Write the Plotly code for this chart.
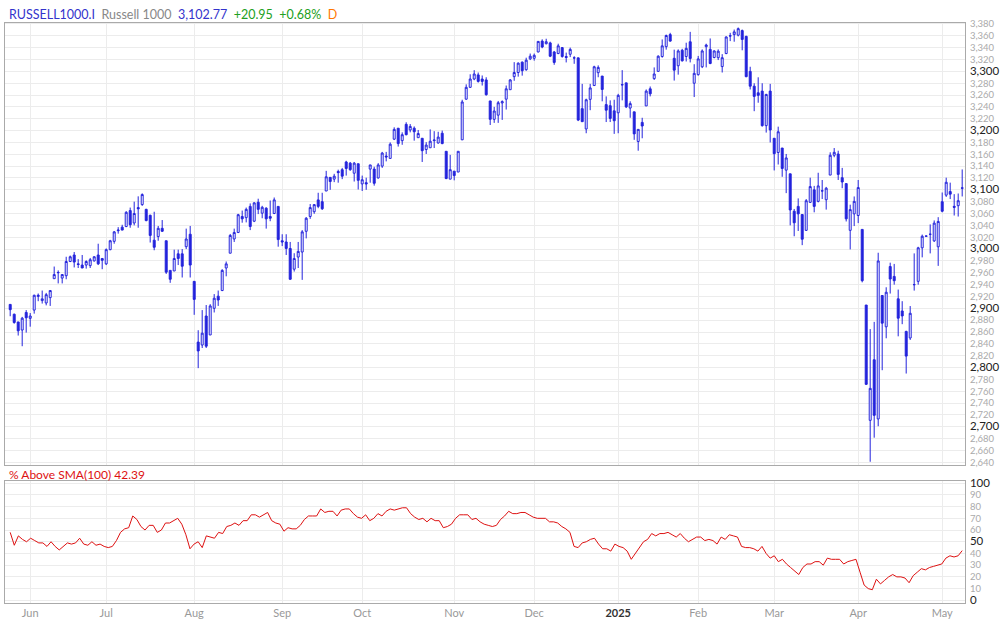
import numpy as np
import pandas as pd
import plotly.graph_objects as go

# daily OHLC (oldest first)
open_ = [2906.6, 2890, 2877, 2863.3, 2893, 2883, 2897, 2920, 2913, 2909, 2918, 2950, 2960, 2951, 2955, 2979, 2990, 2975, 2973, 2973,
         2972, 2980, 2990, 2984, 2975, 2999, 3013, 3031, 3037, 3038, 3065, 3044, 3070, 3075, 3067, 3057, 3015, 3021, 3035, 3014,
         2964, 2963, 2992, 2992, 3004, 3025, 2945.5, 2843, 2838, 2887, 2855, 2900, 2920.5, 2930, 2968, 2993, 3017, 3028, 3055, 3053,
         3072, 3047, 3079, 3060.5, 3069, 3055, 3060, 3072, 3014, 3012, 3001, 2966, 2986.5, 2995, 3030, 3055, 3063, 3083, 3080, 3098,
         3121, 3118, 3131, 3134, 3147, 3145, 3128, 3144, 3110, 3112, 3135, 3135, 3120, 3140, 3157, 3153, 3185.5, 3204, 3183, 3210.5,
         3201, 3204, 3188, 3187, 3168, 3171, 3183, 3179, 3195.5, 3165, 3118, 3131.5, 3130, 3184.4, 3253, 3273, 3287, 3294, 3287, 3285.5,
         3250, 3219, 3226, 3246.6, 3253, 3269, 3291, 3298, 3315.5, 3302.7, 3321, 3322, 3332.7, 3351, 3346.6, 3348, 3332.7, 3330, 3340, 3325,
         3328.8, 3322.7, 3322.7, 3237, 3202.7, 3252.7, 3276, 3297.7, 3292, 3243.8, 3242, 3233.3, 3230, 3277, 3280.5, 3238, 3231.6, 3181.6, 3213.8, 3241.6,
         3270.5, 3287.7, 3299.9, 3325, 3341.6, 3362, 3322, 3309.4, 3335.5, 3325, 3349.9, 3279.9, 3294.4, 3307.7, 3341.6, 3337, 3323.3, 3323, 3308, 3330,
         3359.5, 3362, 3361, 3368.8, 3359, 3299.9, 3274.9, 3263.8, 3266.6, 3208.3, 3266.6, 3187, 3163, 3170.5, 3133.2, 3127, 3063.8, 3072, 3058.3, 3031.6,
         3078.8, 3099.9, 3080.5, 3098, 3083.3, 3124.9, 3158.3, 3160.5, 3120.5, 3110.5, 3031.6, 3059.4, 3056.6, 3033.2, 2905.5, 2710.9, 2813.2, 2713.2, 2921.6, 2868.8,
         2970.5, 2953.8, 2916, 2895.5, 2861, 2849.9, 2940, 2945.5, 3002.1, 3021.6, 3024.9, 3013.8, 3003.8, 3079.9, 3091, 3097.1, 3072.1, 3073.2, 3103.3]
high = [2907, 2891, 2877, 2885.5, 2897, 2892, 2923, 2925, 2930, 2926, 2930, 2970.5, 2964, 2957, 2987, 2989, 2995, 2983, 2990, 2981,
        2985, 2988, 3009, 2985, 3001, 3015.5, 3030.5, 3037, 3041, 3064, 3070, 3080, 3089, 3094, 3068, 3058, 3063, 3039, 3049, 3014,
        2964, 2999, 2999, 3000, 3034.5, 3039, 2945.5, 2863, 2897, 2905.5, 2907, 2924, 2930, 2966, 2979, 3025.5, 3034.5, 3059.4, 3065, 3070,
        3077, 3079, 3085, 3073, 3070.5, 3082, 3087, 3072, 3025, 3025, 3012, 2993, 3012, 3032, 3054, 3076, 3076, 3095, 3095, 3132,
        3121, 3127, 3134, 3137, 3149, 3147, 3147, 3144, 3124, 3120.5, 3142, 3139, 3145, 3164, 3164, 3180, 3205.5, 3204, 3197, 3214,
        3211, 3207, 3201, 3187, 3180.5, 3202, 3199, 3198, 3200, 3165, 3159, 3131.5, 3165, 3252, 3278, 3295, 3302, 3298, 3293, 3290,
        3250, 3240, 3250, 3251, 3276, 3287, 3315.5, 3315, 3316.6, 3323, 3330, 3330, 3351, 3354, 3355, 3350, 3334.4, 3346.6, 3341, 3331.6,
        3340, 3325.5, 3323, 3278.8, 3253.8, 3278.8, 3309.4, 3310, 3292, 3257.7, 3251, 3252, 3262, 3302, 3280.5, 3249.4, 3231.6, 3202, 3221.6, 3269.4,
        3274.4, 3306.6, 3327, 3353.8, 3362, 3365, 3336.6, 3337, 3338, 3348.3, 3366.6, 3312, 3326, 3337, 3346.6, 3355.5, 3335.5, 3337, 3329, 3359,
        3365, 3370.5, 3374, 3370.5, 3360, 3307.7, 3279.9, 3289.9, 3279.9, 3262, 3278.8, 3187, 3206.6, 3170.5, 3160.5, 3127, 3067.7, 3085.5, 3058.3, 3084.4,
        3120.5, 3106.6, 3128.8, 3116.6, 3104.9, 3163.3, 3170.5, 3166, 3137, 3110.5, 3074.9, 3088.8, 3116.6, 3033.2, 2905.5, 2864.9, 2877.1, 2993.8, 2921.6, 2935.5,
        2977, 2974.9, 2931.6, 2912, 2862.1, 2903.8, 2992.7, 3003.8, 3024.4, 3022.5, 3041.6, 3048.3, 3053.8, 3095.5, 3120.5, 3112.1, 3092.7, 3093.8, 3134.4]
low = [2886.6, 2874, 2854, 2836, 2859, 2869, 2891, 2912, 2908, 2905, 2904, 2950, 2942, 2942, 2949, 2978, 2969, 2968, 2968, 2967,
       2968, 2979, 2973, 2966, 2973, 2998, 3009, 3026, 3032, 3037, 3036, 3040, 3036, 3073, 3047, 3011, 2998, 3014, 3029, 2958,
       2943, 2963, 2973, 2952, 3000, 2952, 2889, 2799, 2833, 2833, 2855, 2893, 2904, 2929, 2954, 2993, 3012, 3027, 3044.5, 3045,
       3032, 3045.5, 3059, 3052, 3034.5, 3047, 3059, 3004, 3005, 2990, 2948, 2962, 2968, 2948, 3018, 3051, 3059.5, 3069, 3066, 3098,
       3100, 3113, 3112, 3118, 3124, 3132, 3114, 3100.5, 3098, 3100, 3112, 3107, 3119, 3137, 3148, 3153, 3184, 3173, 3176, 3192,
       3197, 3183, 3188, 3147, 3160.5, 3171, 3170.5, 3178, 3177, 3118, 3118, 3116, 3130, 3184, 3252, 3272, 3285, 3281, 3276, 3259,
       3209.4, 3213, 3213, 3218, 3235.5, 3269, 3284, 3291, 3292.7, 3301, 3319, 3318, 3332, 3339, 3345.5, 3324, 3311, 3329, 3323, 3315,
       3324, 3312.7, 3216, 3215, 3195.5, 3234.4, 3275.5, 3290, 3249.4, 3214.4, 3214.4, 3194.4, 3195.5, 3251, 3238, 3221.6, 3184.4, 3166, 3187, 3241.6,
       3257.7, 3285.5, 3300, 3323, 3336.6, 3350, 3284.4, 3294.4, 3316.6, 3316.6, 3315, 3256.6, 3292.7, 3305.5, 3306.6, 3312, 3322, 3319, 3298, 3329,
       3351, 3350, 3359, 3335.5, 3290, 3269.4, 3232.7, 3247, 3206.6, 3196.6, 3179.9, 3132.7, 3142.7, 3122, 3094.4, 3040, 3021.6, 3030.5, 3006.6, 3030.5,
       3077.7, 3062, 3078.8, 3084.4, 3066.6, 3124.9, 3155, 3116.6, 3102.7, 3046.6, 2999.4, 3038.8, 3043.8, 2943.8, 2770.5, 2641, 2681.6, 2701, 2795.5, 2849.4,
       2924.9, 2939.9, 2852.7, 2873.2, 2789.9, 2846.6, 2929.9, 2939.9, 2986, 3021, 2992.7, 3012, 2971.6, 3062, 3088, 3084.4, 3056.6, 3054.9, 3088.8]
close = [2897.7, 2876, 2862, 2883.3, 2884, 2887, 2922, 2922, 2916, 2923, 2930, 2957, 2960.5, 2957, 2979, 2987, 2978, 2974, 2968, 2979,
         2982, 2987, 2975, 2981, 2999, 3014, 3029, 3032, 3032, 3062, 3041, 3060, 3068, 3092, 3048, 3023, 3003, 3035, 3030, 2961,
         2949, 2984, 2984, 2971, 3017, 2973, 2915, 2828, 2858, 2836, 2904, 2917, 2914, 2964, 2975, 3023, 3028, 3058, 3051, 3067,
         3038, 3078, 3067, 3070.5, 3051, 3052, 3083, 3016, 3012, 3001, 2949, 2984, 2996, 3029, 3052, 3070, 3075, 3072, 3068, 3122,
         3114, 3123, 3129, 3123, 3136, 3134, 3145, 3116, 3117, 3110, 3142, 3111, 3142, 3162, 3155.5, 3177, 3202, 3178, 3193, 3193,
         3207, 3198, 3195, 3166, 3175.5, 3182, 3184, 3189, 3178, 3119, 3134, 3124, 3165, 3248.3, 3273, 3287, 3295.5, 3283, 3283, 3260.5,
         3219, 3233, 3247, 3248.8, 3270.5, 3285.5, 3298, 3313.8, 3301, 3318.8, 3325.5, 3327, 3350.5, 3341, 3350, 3325.5, 3315, 3343, 3325, 3323.5,
         3337, 3322.5, 3217.7, 3215, 3252, 3272, 3307.7, 3306.6, 3269.4, 3234.4, 3220.5, 3216.6, 3259.4, 3277.5, 3240, 3245.5, 3194.4, 3202, 3207.7, 3266.6,
         3262, 3295.5, 3325.5, 3343, 3360.5, 3351, 3302, 3334.4, 3317.7, 3338.8, 3321.6, 3296.6, 3321, 3334.4, 3344.4, 3313.2, 3334.4, 3334, 3323, 3358,
         3360, 3366.6, 3372, 3353.8, 3291, 3274.9, 3257.7, 3259.4, 3208.3, 3261, 3201, 3161, 3198, 3136, 3153.8, 3066, 3044.4, 3059.4, 3016.6, 3081.6,
         3105.5, 3072, 3106.6, 3098.3, 3102.7, 3158.3, 3163.3, 3126, 3113.2, 3051, 3066.6, 3080.5, 3103.8, 2946.6, 2771.6, 2764.9, 2719.3, 2979.9, 2874.9, 2927.1,
         2949.4, 2946.6, 2883.3, 2887.1, 2819.3, 2891.6, 2939.9, 3002.1, 3021.6, 3022, 3025, 3043.8, 3046.6, 3063.8, 3112.7, 3092.7, 3070.5, 3081.6, 3102.77]

# % above SMA(100)
pct_above = [58, 47, 55, 52, 50, 53, 51, 49, 49, 46, 50, 46, 43, 46, 49, 48, 49, 53, 48, 47,
             50, 47, 48, 46, 45, 46, 51, 58, 61, 62, 72, 69, 63, 60, 64, 64, 58, 60, 66, 66,
             68, 70, 65, 56, 44, 48, 50, 45, 55, 54, 53, 58, 57, 63, 64, 66, 64, 68, 68, 73,
             73, 71, 73, 75, 68, 66, 65, 59, 62, 61, 61, 64, 69, 72, 72, 72, 78, 75, 76, 76,
             72, 77, 78, 78, 74, 71, 70, 73, 68, 70, 74, 72, 76, 78, 77, 78, 79, 79, 74, 71,
             69, 70, 67, 70, 68, 68, 62, 63, 65, 70, 73, 73, 73, 69, 70, 67, 65, 64, 63, 64,
             69, 72, 76, 74, 74, 75, 75, 73, 71, 70, 70, 70, 67, 67, 66, 63, 61, 58, 46, 45,
             49, 50, 52, 53, 48, 44, 44, 42, 48, 46, 45, 42, 35, 40, 45, 50, 52, 57, 55, 57,
             57, 58, 56, 54, 57, 53, 50, 52, 54, 54, 51, 52, 51, 48, 54, 52, 56, 55, 54, 46,
             45, 45, 44, 42, 46, 40, 36, 38, 33, 35, 31, 28, 25, 22, 28, 31, 31, 33, 33, 30,
             36, 35, 35, 35, 31, 33, 34, 35, 24, 13, 10, 9, 18, 14, 17, 20, 22, 20, 20, 19,
             15, 21, 24, 27, 26, 28, 29, 30, 31, 36, 38, 37, 38, 42.39]

HOLIDAYS = ['2024-05-27', '2024-06-19', '2024-07-04', '2024-09-02', '2024-11-28', '2024-12-25',
            '2025-01-01', '2025-01-09', '2025-01-20', '2025-02-17', '2025-04-18']

BLUE = '#2323dc'
GRID = '#ececec'

n = len(close)
days = pd.bdate_range('2024-04-01', '2025-05-08')
days = days[~days.isin(pd.to_datetime(HOLIDAYS))][-n:]
idx = np.arange(n)

# month gridlines / labels at first trading day of each month
month_pos, month_txt = [], []
for i in range(1, n):
    if days[i].month != days[i - 1].month:
        month_pos.append(i)
        if days[i].month == 1:
            month_txt.append('<b style="color:#333">2025</b>')
        else:
            month_txt.append(days[i].strftime('%b'))

candles = go.Candlestick(
    x=idx, open=open_, high=high, low=low, close=close,
    increasing=dict(line=dict(color=BLUE, width=1), fillcolor='white'),
    decreasing=dict(line=dict(color=BLUE, width=1), fillcolor=BLUE),
    whiskerwidth=0, xaxis='x', yaxis='y', showlegend=False,
)
pct_line = go.Scatter(
    x=np.linspace(0, n - 1, len(pct_above)), y=pct_above, mode='lines',
    line=dict(color='#dd1111', width=1), xaxis='x2', yaxis='y2', showlegend=False,
)

price_ticks = list(range(2640, 3381, 20))
price_text = [f'<span style="font-size:11.5px;color:#222">{v:,}</span>' if v % 100 == 0
              else f'{v:,}' for v in price_ticks]
pct_ticks = list(range(0, 101, 10))
pct_text = [f'<span style="font-size:11.5px;color:#222">{v}</span>' if v % 50 == 0
            else str(v) for v in pct_ticks]

xr = [-1.3, n - 0.3]
_X = dict(range=xr, tickvals=month_pos, showgrid=True, gridcolor=GRID, zeroline=False,
          showline=True, linecolor='#aaa', mirror=True, ticks='')

fig = go.Figure([candles, pct_line])
fig.update_layout(
    width=1000, height=622,
    margin=dict(l=0, r=0, t=0, b=0),
    paper_bgcolor='white', plot_bgcolor='white',
    font=dict(family='Lato', size=9.5, color='#aaa'),
    xaxis=dict(domain=[0.005, 0.965], anchor='y', showticklabels=False,
               rangeslider=dict(visible=False), **_X),
    yaxis=dict(domain=[0.2508, 0.9711], range=[2635.5, 3382], side='right', anchor='x',
               tickvals=price_ticks, ticktext=price_text, gridcolor=GRID,
               showline=True, linecolor='#aaa', mirror=True, zeroline=False,
               ticklabelstandoff=2),
    xaxis2=dict(domain=[0.005, 0.965], anchor='y2', ticktext=month_txt,
                tickfont=dict(size=11, color='#999'), **_X),
    yaxis2=dict(domain=[0.0257, 0.225], range=[-2.5, 102], side='right', anchor='x2',
                tickvals=pct_ticks, ticktext=pct_text, gridcolor=GRID,
                showline=True, linecolor='#aaa', mirror=True, zeroline=False,
                ticklabelstandoff=2),
    annotations=[
        dict(xref='paper', yref='paper', x=0.007, y=1.0, xanchor='left', yanchor='top',
             showarrow=False, font=dict(size=12.5, family='Lato'),
             text=('<span style="color:#3333cc">RUSSELL1000.I</span>  '
                   '<span style="color:#888">Russell 1000</span>  '
                   '<span style="color:#3333cc">3,102.77</span>  '
                   '<span style="color:#22a022">+20.95</span>  '
                   '<span style="color:#22a022">+0.68%</span>  '
                   '<span style="color:#ff7700">D</span>')),
        dict(xref='paper', yref='paper', x=0.007, y=0.2505, xanchor='left', yanchor='top',
             showarrow=False, font=dict(size=12, family='Lato', color='#dd1111'),
             text='% Above SMA(100) 42.39'),
    ],
)
# drop the browser's default page margin so the figure sits at the window corner
fig.write_html('out.html', config={'displayModeBar': False},
               post_script="document.body.style.margin='0';")
